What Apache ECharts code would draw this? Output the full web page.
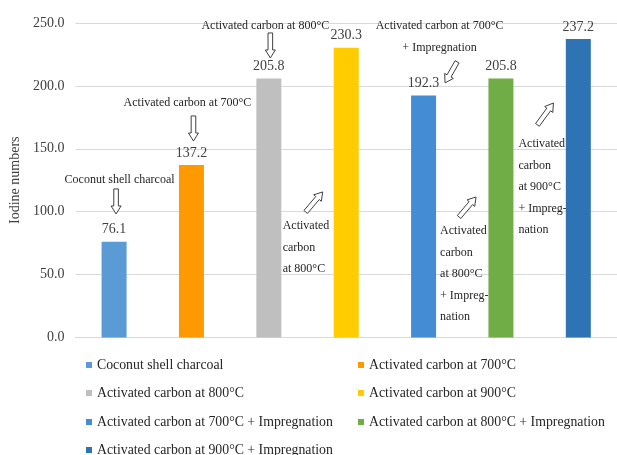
<!DOCTYPE html>
<html>
<head>
<meta charset="utf-8">
<script src="https://cdn.jsdelivr.net/npm/echarts@6/dist/echarts.min.js"></script>
<style>
  html, body { margin: 0; padding: 0; background: #fff; }
  #chart { width: 617px; height: 455px; }
</style>
</head>
<body>
<div id="chart"></div>
<script>
// Samples and their iodine numbers
const sampleNames = [
  'Coconut shell charcoal',
  'Activated carbon at 700°C',
  'Activated carbon at 800°C',
  'Activated carbon at 900°C',
  'Activated carbon at 700°C + Impregnation',
  'Activated carbon at 800°C + Impregnation',
  'Activated carbon at 900°C + Impregnation'
];
const iodineValues = [76.1, 137.2, 205.8, 230.3, 192.3, 205.8, 237.2];
const barColors = ['#5B9BD5', '#FF9900', '#BFBFBF', '#FFCC00', '#448CD4', '#70AD47', '#2E74B5'];
const yTicks = { min: 0, max: 250, interval: 50 };

const FONT = "'Liberation Serif', 'Times New Roman', serif";

const chart = echarts.init(document.getElementById('chart'), null, { renderer: 'canvas' });

// One series per sample so each gets its own legend entry; all share a stack
// so every bar sits centred in its own slot.
const series = sampleNames.map((name, i) => ({
  name: name,
  type: 'bar',
  stack: 'all',
  barWidth: 25,
  itemStyle: { color: barColors[i] },
  data: iodineValues.map((v, j) => (j === i ? v : '-')),
  label: {
    show: true,
    position: 'top',
    distance: 5,
    fontFamily: FONT,
    fontSize: 14,
    color: '#404040',
    formatter: p => Number(p.value).toFixed(1)
  }
}));

// Legend laid out as two columns, one legend block per entry
const legendCols = [86, 358];
const legendRows = [365, 393, 422, 450];
const legends = sampleNames.map((name, i) => ({
  orient: 'horizontal',
  left: legendCols[i % 2],
  top: legendRows[Math.floor(i / 2)] - 7,
  padding: 0,
  itemWidth: 6,
  itemHeight: 6,
  icon: 'rect',
  textStyle: { fontFamily: FONT, fontSize: 13.8, color: '#262626', lineHeight: 14 },
  data: [name]
}));

chart.setOption({
  animation: false,
  backgroundColor: '#ffffff',
  grid: { left: 73, top: 23, width: 556.5, height: 314.5 },
  xAxis: {
    type: 'category',
    data: sampleNames,
    axisLabel: { show: false },
    axisTick: { show: false },
    axisLine: { show: true, lineStyle: { color: '#D9D9D9', width: 1 } }
  },
  yAxis: {
    type: 'value',
    min: yTicks.min,
    max: yTicks.max,
    interval: yTicks.interval,
    name: 'Iodine numbers',
    nameLocation: 'middle',
    nameRotate: 90,
    nameGap: 44,
    nameTextStyle: { fontFamily: FONT, fontSize: 14, color: '#404040' },
    axisLabel: {
      margin: 11,
      fontFamily: FONT,
      fontSize: 14,
      color: '#404040',
      formatter: v => v.toFixed(1)
    },
    axisLine: { show: false },
    axisTick: { show: false },
    splitLine: { lineStyle: { color: '#D9D9D9', width: 1 } }
  },
  legend: legends,
  series: series
});

// Callout notes: anchored to a bar slot (cat), a pixel offset (dx) and a y value.
const notes = [
  { cat: 0, dx: 5.5, v: 125.2, align: 'center', text: 'Coconut shell charcoal',
    arrow: [[0, 2, 118.1], [0, 2, 98.2]] },
  { cat: 1, dx: -4, v: 186.5, align: 'center', text: 'Activated carbon at 700°C',
    arrow: [[1, 2, 176.1], [1, 2, 156.2]] },
  { cat: 2, dx: -3.5, v: 247.7, align: 'center', text: 'Activated carbon at 800°C',
    arrow: [[2, 1.5, 242.1], [2, 1.5, 222.2]] },
  { cat: 3, dx: -63.5, v: 88.7, align: 'left', text: 'Activated\ncarbon\nat 800°C',
    arrow: [[3, -40.5, 99.8], [3, -23.5, 115.7]] },
  { cat: 4, dx: 16, v: 247.7, align: 'center', text: 'Activated carbon at 700°C\n+ Impregnation',
    arrow: [[4, 33.5, 219.1], [4, 21.5, 202.4]] },
  { cat: 4, dx: 16.5, v: 84.7, align: 'left', text: 'Activated\ncarbon\nat 800°C\n+ Impreg-\nnation',
    arrow: [[4, 35.5, 95.8], [4, 52.5, 111.7]] },
  { cat: 5, dx: 17.5, v: 153.9, align: 'left', text: 'Activated\ncarbon\nat 900°C\n+ Impreg-\nnation',
    arrow: [[5, 36.5, 169.0], [5, 52.5, 186.4]] }
];

const LINE_H = 21.5;

function toPx(cat, dx, v) {
  const p = chart.convertToPixel({ gridIndex: 0 }, [cat, v]);
  return [p[0] + dx, p[1]];
}

// Hollow block arrow from tail to tip
function arrowPoints(tail, tip) {
  const ddx = tip[0] - tail[0], ddy = tip[1] - tail[1];
  const len = Math.sqrt(ddx * ddx + ddy * ddy);
  const ux = ddx / len, uy = ddy / len;
  const nx = -uy, ny = ux;
  const head = 8, shaft = 2.3, wing = 5;
  const local = [[0, -shaft], [len - head, -shaft], [len - head, -wing], [len, 0],
                 [len - head, wing], [len - head, shaft], [0, shaft]];
  return local.map(([a, b]) => [tail[0] + ux * a + nx * b, tail[1] + uy * a + ny * b]);
}

const graphics = [];
notes.forEach(n => {
  const p = toPx(n.cat, n.dx, n.v);
  graphics.push({
    type: 'text',
    x: p[0],
    y: p[1] - LINE_H / 2,
    silent: true,
    style: {
      text: n.text,
      fill: '#262626',
      font: '12px ' + FONT,
      lineHeight: LINE_H,
      align: n.align,
      verticalAlign: 'top'
    }
  });
  const tail = toPx(n.arrow[0][0], n.arrow[0][1], n.arrow[0][2]);
  const tip = toPx(n.arrow[1][0], n.arrow[1][1], n.arrow[1][2]);
  graphics.push({
    type: 'polygon',
    silent: true,
    shape: { points: arrowPoints(tail, tip) },
    style: { fill: '#ffffff', stroke: '#404040', lineWidth: 1 }
  });
});

chart.setOption({ graphic: graphics });
</script>
</body>
</html>
